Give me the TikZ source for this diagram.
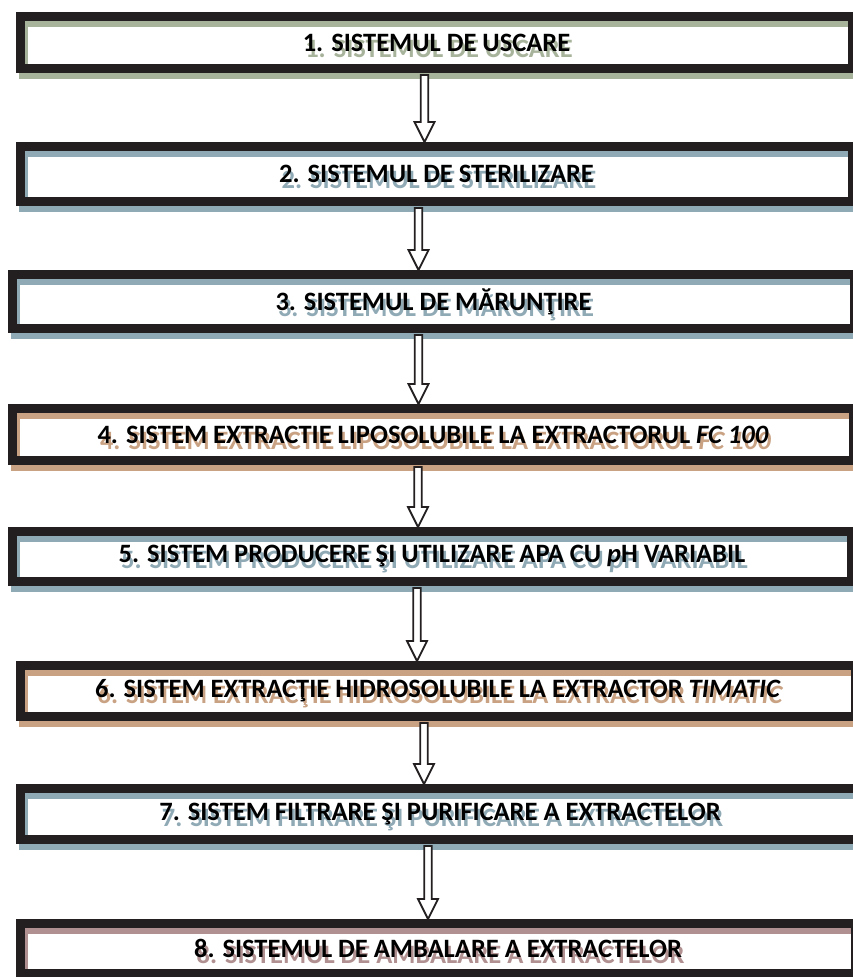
\documentclass[tikz,border=0pt]{standalone}
\usepackage{fontspec}
\setmainfont{Carlito}
\usetikzlibrary{calc}

\definecolor{frameblack}{HTML}{231F20}
\definecolor{shgreen}{HTML}{A8B39B}
\definecolor{shblue}{HTML}{8FA9B5}
\definecolor{shtan}{HTML}{C9A283}
\definecolor{shrose}{HTML}{B09090}

% text with a shifted coloured copy under it
\newcommand{\shadowtext}[2]{\rlap{\hspace{2.5pt}\raisebox{-6pt}[0pt][0pt]{\color{#1}#2}}#2}

\begin{document}
\begin{tikzpicture}[x=1pt,y=-1pt,
    sysbox/.style={draw=frameblack, line width=9pt, inner sep=0pt, anchor=north west,
      font=\fontsize{26.5}{30}\selectfont\bfseries,
      preaction={draw=#1, line width=9pt, transform canvas={shift={(3pt,-6pt)}}}},
    hollowarrow/.style={draw=frameblack, fill=white, line width=1.8pt, line join=miter,
      to path={let \p1=(\tikztostart), \p2=(\tikztotarget) in
        (\x1-3.8pt,\y1) -- (\x1-3.8pt,\y2+20pt) -- (\x1-10pt,\y2+20pt) -- (\x1,\y2)
        -- (\x1+10pt,\y2+20pt) -- (\x1+3.8pt,\y2+20pt) -- (\x1+3.8pt,\y1) -- cycle}}]
  \clip (0,0) rectangle (853,977);
  \fill[white] (0,0) rectangle (853,977);

  \node[sysbox=shgreen, minimum width=832, minimum height=52] (b1) at (16,12)
    {\shadowtext{shgreen}{1. SISTEMUL DE USCARE}};
  \node[sysbox=shblue, minimum width=832, minimum height=55] (b2) at (16,142)
    {\shadowtext{shblue}{2. SISTEMUL DE STERILIZARE}};
  \node[sysbox=shblue, minimum width=842, minimum height=54] (b3) at (8,270)
    {\shadowtext{shblue}{3. SISTEMUL DE MĂRUNŢIRE}};
  \node[sysbox=shtan, minimum width=841, minimum height=52] (b4) at (8,404)
    {\shadowtext{shtan}{4. SISTEM EXTRACTIE LIPOSOLUBILE LA EXTRACTORUL \textit{FC 100}}};
  \node[sysbox=shblue, minimum width=839, minimum height=50] (b5) at (8,527)
    {\shadowtext{shblue}{5. SISTEM PRODUCERE ŞI UTILIZARE APA CU \textit{p}H VARIABIL}};
  \node[sysbox=shtan, minimum width=835, minimum height=51] (b6) at (16,661)
    {\shadowtext{shtan}{6. SISTEM EXTRACŢIE HIDROSOLUBILE LA EXTRACTOR \textit{TIMATIC}}};
  \node[sysbox=shblue, minimum width=839, minimum height=51] (b7) at (16,784)
    {\shadowtext{shblue}{7. SISTEM FILTRARE ŞI PURIFICARE A EXTRACTELOR}};
  \node[sysbox=shrose, minimum width=835, minimum height=50] (b8) at (16,919)
    {\shadowtext{shrose}{8. SISTEMUL DE AMBALARE A EXTRACTELOR}};

  % arrows from box to box
  \foreach \a/\b/\dx in {b1/b2/-12, b2/b3/-18, b3/b4/-15, b4/b5/-15, b5/b6/-15, b6/b7/-14, b7/b8/-12}
    \draw[hollowarrow] ([xshift=\dx pt, yshift=-2pt]\a.south) to (\b.north);
\end{tikzpicture}
\end{document}
